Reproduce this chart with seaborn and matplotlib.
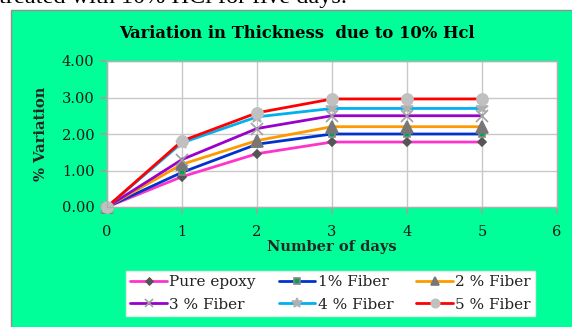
import matplotlib
matplotlib.use("Agg")
import matplotlib.pyplot as plt
import seaborn as sns
import pandas as pd
from matplotlib.patches import Rectangle
from matplotlib.ticker import FormatStrFormatter

days = [0, 1, 2, 3, 4, 5]
pure_epoxy = [0.0, 0.83, 1.46, 1.78, 1.78, 1.78]
fiber_1 = [0.0, 0.95, 1.72, 2.00, 2.00, 2.00]
fiber_2 = [0.0, 1.17, 1.82, 2.20, 2.20, 2.20]
fiber_3 = [0.0, 1.30, 2.15, 2.50, 2.50, 2.50]
fiber_4 = [0.0, 1.76, 2.47, 2.70, 2.70, 2.70]
fiber_5 = [0.0, 1.81, 2.58, 2.96, 2.96, 2.96]
series_names = ["Pure epoxy", "1% Fiber", "2 % Fiber", "3 % Fiber", "4 % Fiber", "5 % Fiber"]
series_values = [pure_epoxy, fiber_1, fiber_2, fiber_3, fiber_4, fiber_5]

title = "Variation in Thickness  due to 10% Hcl"
xlabel = "Number of days"
ylabel = "% Variation"
caption = "treated with 10% HCl for five days."

rows = []
for name, vals in zip(series_names, series_values):
    for d, v in zip(days, vals):
        rows.append({"Day": d, "Variation": v, "Series": name})
df = pd.DataFrame(rows)

styles = {
    "Pure epoxy": dict(color="#FF33CC", marker="D", mfc="#555555", mec="#555555", ms=4, lms=3.5),
    "1% Fiber": dict(color="#0033CC", marker="s", mfc="#00A550", mec="#888888", ms=5, lms=4),
    "2 % Fiber": dict(color="#FF9900", marker="^", mfc="#777777", mec="#777777", ms=8, lms=6),
    "3 % Fiber": dict(color="#9900CC", marker="x", mfc="#A0A0A0", mec="#A0A0A0", ms=8, lms=6),
    "4 % Fiber": dict(color="#00B0F0", marker="*", mfc="#B0B0B0", mec="#B0B0B0", ms=9, lms=7),
    "5 % Fiber": dict(color="#FF0000", marker="o", mfc="#C0C0C0", mec="#C0C0C0", ms=8, lms=6),
}

sns.set_theme(style="white")
plt.rcParams["font.family"] = ["DejaVu Serif"]

fig = plt.figure(figsize=(5.72, 3.27), dpi=100)
fig.patch.set_facecolor("white")
fig.add_artist(Rectangle((11 / 572, -0.01), 1.0, (327 - 10) / 327 + 0.01,
                         transform=fig.transFigure, facecolor="#00FF99",
                         edgecolor="#909090", linewidth=1.0, zorder=0))
fig.text(-0.002, 1 - 3 / 327, caption, fontsize=17.5, family="Liberation Serif",
         ha="left", va="baseline", color="black")

ax = fig.add_axes([107 / 572, (327 - 207) / 327, (557 - 107) / 572, (207 - 61) / 327])
ax.set_facecolor("white")

for name in series_names:
    st = styles[name]
    sub = df[df["Series"] == name]
    sns.lineplot(data=sub, x="Day", y="Variation", ax=ax, color=st["color"],
                 marker=st["marker"], markerfacecolor=st["mfc"],
                 markeredgecolor=st["mec"], markersize=st["ms"],
                 markeredgewidth=1.2, linewidth=2, label=name, clip_on=False)

ax.set_xlim(0, 6)
ax.set_ylim(0, 4)
ax.set_xticks(range(0, 7))
ax.set_yticks([0, 1, 2, 3, 4])
ax.yaxis.set_major_formatter(FormatStrFormatter("%.2f"))
ax.grid(True, color="#C8C8C8", linewidth=1)
ax.set_axisbelow(True)
for sp in ax.spines.values():
    sp.set_color("#B0B0B0")
    sp.set_linewidth(1)
ax.tick_params(axis="both", which="major", length=5, color="#A0A0A0",
               labelsize=10.5, labelcolor="#1a1a1a", direction="out",
               bottom=True, left=True)
ax.tick_params(axis="x", pad=8)
ax.tick_params(axis="y", pad=4)

fig.text(297 / 572, 1 - 33 / 327, title, fontsize=11.8, fontweight="bold",
         ha="center", va="center", color="black")
ax.set_xlabel(xlabel, fontsize=10.5, fontweight="bold", labelpad=1)
ax.set_ylabel(ylabel, fontsize=10.5, fontweight="bold", labelpad=10)

handles, labels = ax.get_legend_handles_labels()
if ax.legend_:
    ax.legend_.remove()
order = [0, 3, 1, 4, 2, 5]
leg = fig.legend([handles[i] for i in order], [labels[i] for i in order], ncol=3,
                 loc="lower left",
                 bbox_to_anchor=(118 / 572, 3 / 327, (543 - 118) / 572, 50 / 327),
                 mode="expand", frameon=True, fancybox=False, fontsize=11,
                 framealpha=1.0, handlelength=2.4, handletextpad=0.15,
                 columnspacing=1.0, borderpad=0.3, labelspacing=0.55)
leg.get_frame().set_facecolor("white")
leg.get_frame().set_edgecolor("#E8E8E8")
for h, i in zip(leg.legend_handles, order):
    h.set_markersize(styles[series_names[i]]["lms"])
for t in leg.get_texts():
    t.set_color("#222222")

fig.savefig("out.png", dpi=100)
